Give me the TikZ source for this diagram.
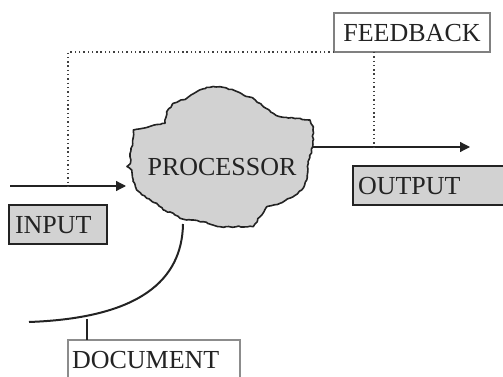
\documentclass[tikz,border=0pt]{standalone}
\usepackage{fontspec}
\setmainfont{Liberation Serif}
\usetikzlibrary{arrows.meta,decorations.pathmorphing}
\definecolor{shade}{RGB}{210,210,210}
\definecolor{ink}{RGB}{35,35,35}
\begin{document}
\begin{tikzpicture}[x=1pt,y=-1pt,
  lbl/.style={font=\fontsize{26}{26}\selectfont, text=ink, inner ysep=0pt,
    text height=17.5pt, text depth=0pt, outer sep=0pt},
  graybox/.style={lbl, draw=ink, line width=1.4pt, fill=shade, align=left,
    minimum height=39pt},
  whitebox/.style={lbl, draw=black!50, line width=1.3pt, fill=white,
    minimum height=39pt},
  flow/.style={draw=ink, line width=1.3pt, -{Triangle[length=10pt,width=10pt]}},
  fbline/.style={draw=black!75, line width=1.6pt, dash pattern=on 1.4pt off 2.9pt},
  cloudline/.style={draw=ink, line width=1.6pt, fill=shade, line join=round,
    decorate, decoration={random steps, segment length=3pt, amplitude=0.7pt}},
]
\useasboundingbox (0,0) rectangle (503,377);
\pgfmathsetseed{11}

% processor blob
\path[cloudline]
  (133.3,130) -- (165,123.3) -- (166.7,111.7) -- (173.3,103.3) -- (186.7,98.3)
  -- (196.7,91.7) -- (206.7,87.3) -- (220,86.7) -- (233.3,90) -- (243.3,95)
  -- (253.3,98.3) -- (263.3,106.7) -- (273.3,113.3) -- (280,116.7)
  -- (296.7,118.3) -- (310,120) -- (313.3,126.7) -- (312.7,146.7)
  -- (308.3,163.3) -- (306.7,180) -- (301.7,190) -- (293.3,196.7)
  -- (280,203.3) -- (266.7,206.7) -- (260,216.7) -- (253.3,226.7)
  -- (220,226.7) -- (203.3,221.7) -- (186.7,220) -- (180,218.3)
  -- (173.3,213.3) -- (163.3,210) -- (156.7,203.3) -- (146.7,198.3)
  -- (136.7,190) -- (133.3,180) -- (131.7,170) -- (127,166.5) -- (130.5,163)
  -- (130,156.7) -- (132.7,143.3) -- cycle;
\node[lbl] (processor) at (222,166.5) {PROCESSOR};

% labelled boxes
\node[graybox, anchor=north west, inner xsep=6pt, text width=86pt] (input) at (9,205) {INPUT};
\node[graybox, anchor=north west, inner xsep=5pt, text width=160pt] (output) at (353,166) {OUTPUT};
\node[whitebox, anchor=north west, minimum width=156pt] (feedback) at (334,13) {FEEDBACK};
\node[whitebox, draw=black!45, line width=1.1pt, anchor=north west, align=left,
      inner xsep=4pt, text width=164pt, text depth=20pt, minimum height=60pt]
      (document) at (68,340) {DOCUMENT};

% connector end points
\coordinate (inL) at (10,186);
\coordinate (procW) at (126,186);
\coordinate (procE) at (313,147);
\coordinate (outE) at (470,147);
\coordinate (procS) at (183,224);
\coordinate (docL) at (29,322);
\coordinate (fbL) at (68,52);
\coordinate (fbR) at (374,52);
\coordinate (doctick) at (87,319);

% flows in and out
\draw[flow] (inL) -- (procW);
\draw[flow] (procE) -- (outE);

% feedback loop
\draw[fbline] (feedback.south west) -- (fbL) -- (fbL |- inL);
\draw[fbline] (fbR) -- (fbR |- outE);

% document path
\draw[draw=ink, line width=2pt] (procS) .. controls (182,280) and (140,318) .. (docL);
\draw[draw=ink, line width=1.5pt] (doctick) -- (doctick |- document.north);
\end{tikzpicture}
\end{document}
